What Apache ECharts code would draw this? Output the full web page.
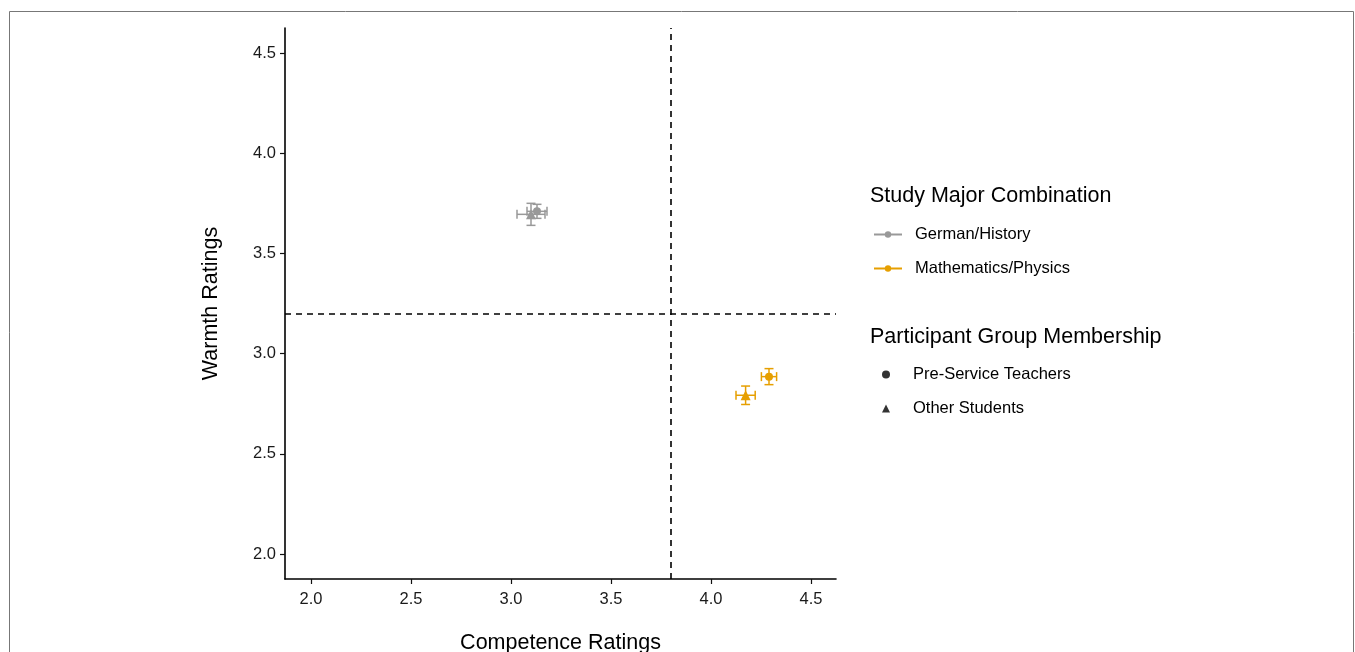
<!DOCTYPE html>
<html>
<head>
    <meta charset="utf-8">
    <title>Warmth vs Competence</title>
    <script src="https://cdn.jsdelivr.net/npm/echarts@6/dist/echarts.min.js"></script>
    <style>
        html, body { margin: 0; padding: 0; background: #fff; }
        #main { width: 1355px; height: 652px; }
    </style>
</head>
<body>
<div id="main"></div>
<script type="text/javascript">
    // data
    var majors = ['German/History', 'Mathematics/Physics'];
    var majorColors = ['#999999', '#E69F00'];
    var participantGroups = ['Pre-Service Teachers', 'Other Students'];
    var groupSymbols = ['circle', 'triangle'];

    // one entry per plotted mean
    var pointMajor = [0, 0, 1, 1];
    var pointGroup = [0, 1, 0, 1];
    var competence = [3.13, 3.10, 4.29, 4.173];
    var warmth = [3.71, 3.695, 2.885, 2.792];
    var competenceErr = [0.05, 0.07, 0.038, 0.048];
    var warmthErr = [0.035, 0.055, 0.04, 0.046];

    var tickValues = [2.0, 2.5, 3.0, 3.5, 4.0, 4.5];
    var competenceCut = 3.8;
    var warmthCut = 3.2;

    var FONT = 'Liberation Sans, Arial, sans-serif';
    var myChart = echarts.init(document.getElementById('main'));

    var series = [];

    // error bars
    majors.forEach(function (m, mi) {
        var rows = [];
        for (var i = 0; i < competence.length; i++) {
            if (pointMajor[i] === mi) {
                rows.push([competence[i], warmth[i], competenceErr[i], warmthErr[i]]);
            }
        }
        series.push({
            type: 'custom',
            name: 'err_' + mi,
            silent: true,
            z: 3,
            data: rows,
            renderItem: function (params, api) {
                var x = api.value(0), y = api.value(1);
                var ex = api.value(2), ey = api.value(3);
                var c = api.coord([x, y]);
                var l = api.coord([x - ex, y]);
                var r = api.coord([x + ex, y]);
                var t = api.coord([x, y + ey]);
                var b = api.coord([x, y - ey]);
                var cap = 4.5;
                var style = { stroke: majorColors[mi], lineWidth: 1.5, fill: null };
                return {
                    type: 'group',
                    children: [
                        { type: 'line', shape: { x1: l[0], y1: c[1], x2: r[0], y2: c[1] }, style: style },
                        { type: 'line', shape: { x1: l[0], y1: c[1] - cap, x2: l[0], y2: c[1] + cap }, style: style },
                        { type: 'line', shape: { x1: r[0], y1: c[1] - cap, x2: r[0], y2: c[1] + cap }, style: style },
                        { type: 'line', shape: { x1: c[0], y1: t[1], x2: c[0], y2: b[1] }, style: style },
                        { type: 'line', shape: { x1: c[0] - cap, y1: t[1], x2: c[0] + cap, y2: t[1] }, style: style },
                        { type: 'line', shape: { x1: c[0] - cap, y1: b[1], x2: c[0] + cap, y2: b[1] }, style: style }
                    ]
                };
            }
        });
    });

    // markers
    for (var i = 0; i < competence.length; i++) {
        series.push({
            type: 'scatter',
            name: 'pt_' + i,
            z: 4,
            symbol: groupSymbols[pointGroup[i]],
            symbolSize: pointGroup[i] === 0 ? 8 : 10,
            itemStyle: { color: majorColors[pointMajor[i]], opacity: 1 },
            data: [[competence[i], warmth[i]]]
        });
    }

    // dashed reference lines
    series.push({
        type: 'line',
        name: 'cuts',
        data: [],
        markLine: {
            silent: true,
            symbol: ['none', 'none'],
            label: { show: false },
            lineStyle: { color: '#000', type: [6, 5], width: 1.6 },
            data: [{ xAxis: competenceCut }, { yAxis: warmthCut }]
        }
    });

    // legend-only series
    majors.forEach(function (m, mi) {
        series.push({
            type: 'line',
            name: m,
            data: [],
            symbol: 'circle',
            symbolSize: 6,
            itemStyle: { color: majorColors[mi] },
            lineStyle: { color: majorColors[mi], width: 1.5 }
        });
    });
    participantGroups.forEach(function (g, gi) {
        series.push({
            type: 'scatter',
            name: g,
            data: [],
            symbol: groupSymbols[gi],
            itemStyle: { color: '#000' }
        });
    });

    var option = {
        animation: false,
        textStyle: { fontFamily: FONT },
        grid: { left: 285, top: 28, right: 519, bottom: 73, containLabel: false, outerBoundsMode: 'none' },
        xAxis: {
            type: 'value',
            min: 1.87,
            max: 4.625,
            name: 'Competence Ratings',
            nameLocation: 'middle',
            nameGap: 53,
            nameTextStyle: { fontSize: 21.5, color: '#000' },
            axisLine: { onZero: false, lineStyle: { color: '#000', width: 1.6 } },
            axisTick: { show: true, length: 5, customValues: tickValues, lineStyle: { color: '#111', width: 1.2 } },
            axisLabel: {
                customValues: tickValues,
                fontSize: 16.5,
                color: '#1a1a1a',
                margin: 12,
                formatter: function (v) { return v.toFixed(1); }
            },
            splitLine: { show: false }
        },
        yAxis: {
            type: 'value',
            min: 1.875,
            max: 4.625,
            name: 'Warmth Ratings',
            nameLocation: 'middle',
            nameGap: 63,
            nameTextStyle: { fontSize: 21.5, color: '#000' },
            axisLine: { show: true, onZero: false, lineStyle: { color: '#000', width: 1.6 } },
            axisTick: { show: true, length: 5, customValues: tickValues, lineStyle: { color: '#111', width: 1.2 } },
            axisLabel: {
                customValues: tickValues,
                fontSize: 16.5,
                color: '#1a1a1a',
                margin: 9,
                formatter: function (v) { return v.toFixed(1); }
            },
            splitLine: { show: false }
        },
        legend: [{
            data: majors,
            orient: 'vertical',
            left: 868,
            top: 221,
            itemWidth: 28,
            itemHeight: 8,
            itemGap: 17,
            selectedMode: false,
            textStyle: { fontSize: 16.5, color: '#000', padding: [0, 0, 0, 8] }
        }, {
            data: participantGroups.map(function (g, gi) { return { name: g, icon: groupSymbols[gi] }; }),
            orient: 'vertical',
            left: 877,
            top: 361,
            itemWidth: 8,
            itemHeight: 8,
            itemGap: 17,
            selectedMode: false,
            textStyle: { fontSize: 16.5, color: '#000', padding: [0, 0, 0, 18] }
        }],
        graphic: [{
            type: 'rect',
            shape: { x: 9.5, y: 11.5, width: 1344, height: 700 },
            style: { fill: null, stroke: '#777', lineWidth: 1 },
            silent: true
        }, {
            type: 'text',
            left: 870,
            top: 185,
            style: { text: 'Study Major Combination', fontSize: 21.5, fill: '#000', fontFamily: FONT }
        }, {
            type: 'text',
            left: 870,
            top: 326,
            style: { text: 'Participant Group Membership', fontSize: 21.5, fill: '#000', fontFamily: FONT }
        }],
        series: series
    };

    myChart.setOption(option);
</script>
</body>
</html>
